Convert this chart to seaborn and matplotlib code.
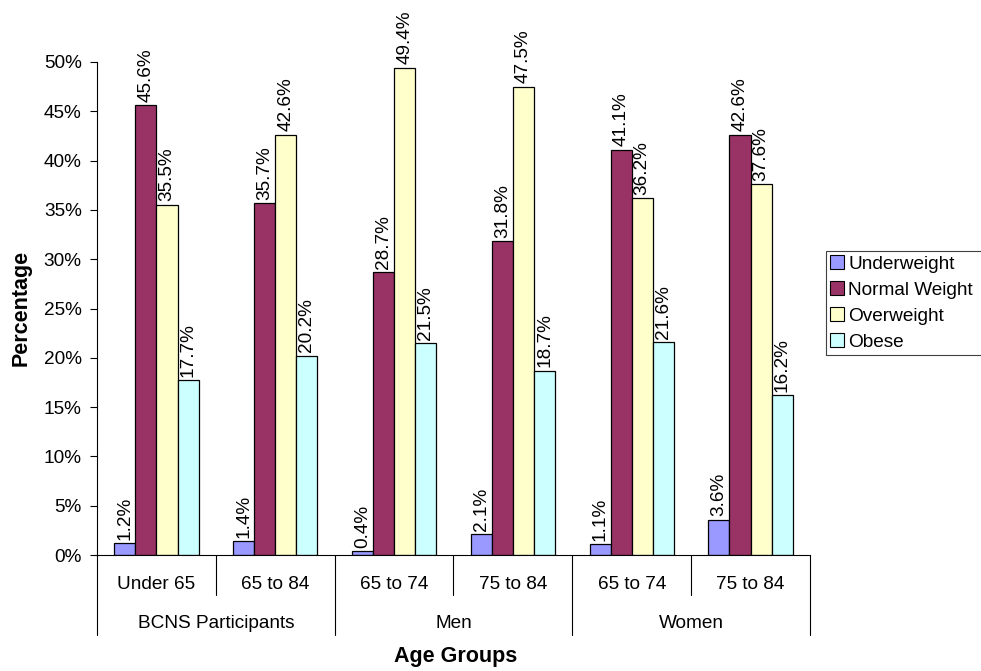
import matplotlib
matplotlib.use("Agg")
import matplotlib.pyplot as plt
import seaborn as sns
import pandas as pd
from matplotlib.patches import Rectangle
from matplotlib.ticker import MultipleLocator, FuncFormatter

# Age-group categories and the population each belongs to
age_groups = ["Under 65", "65 to 84", "65 to 74", "75 to 84", "65 to 74", "75 to 84"]
populations = ["BCNS Participants", "Men", "Women"]
group_sizes = [2, 2, 2]

weight_classes = ["Underweight", "Normal Weight", "Overweight", "Obese"]
underweight = [1.2, 1.4, 0.4, 2.1, 1.1, 3.6]
normal_weight = [45.6, 35.7, 28.7, 31.8, 41.1, 42.6]
overweight = [35.5, 42.6, 49.4, 47.5, 36.2, 37.6]
obese = [17.7, 20.2, 21.5, 18.7, 21.6, 16.2]

colors = ["#9999FF", "#993366", "#FFFFCC", "#CCFFFF"]

series = [underweight, normal_weight, overweight, obese]
rows = []
for cls, vals in zip(weight_classes, series):
    for i, v in enumerate(vals):
        rows.append({"slot": i, "cls": cls, "pct": v})
df = pd.DataFrame(rows)

sns.set_theme(style="white")
plt.rcParams["font.family"] = ["Liberation Sans", "DejaVu Sans"]
for key in ["text.color", "axes.labelcolor", "xtick.color", "ytick.color"]:
    plt.rcParams[key] = "black"

FS = 13.7

fig = plt.figure(figsize=(9.81, 6.71), dpi=100)
W, H = 981, 671
left, right, top, bottom = 97, 810, 62, 555
ax = fig.add_axes([left / W, 1 - bottom / H, (right - left) / W, (bottom - top) / H])

sns.barplot(data=df, x="slot", y="pct", hue="cls", hue_order=weight_classes,
            palette=colors, saturation=1, width=0.71, edgecolor="black", linewidth=0.9,
            errorbar=None, legend=True, ax=ax)

ax.set_xlim(-0.5, 5.5)
ax.set_ylim(0, 50)
ax.yaxis.set_major_locator(MultipleLocator(5))
ax.yaxis.set_major_formatter(FuncFormatter(lambda v, p: f"{v:.0f}%"))
ax.tick_params(axis="y", direction="out", length=5, width=0.8, color="black",
               labelsize=FS, pad=6, left=True)
ax.tick_params(axis="x", length=0, labelbottom=False)

for s in ["top", "right"]:
    ax.spines[s].set_visible(False)
for s in ["left", "bottom"]:
    ax.spines[s].set_color("black")
    ax.spines[s].set_linewidth(0.8)

# Value labels above each bar
for cont in ax.containers:
    ax.bar_label(cont, labels=[f"{b.get_height():.1f}%" for b in cont],
                 rotation=90, padding=2.5, fontsize=FS, clip_on=False)

# Two-level category axis
axh = bottom - top
def yfrac(px):
    return -(px - bottom) / axh

trans = ax.get_xaxis_transform()
for i, lab in enumerate(age_groups):
    ax.text(i, yfrac(589), lab, transform=trans, ha="center", va="baseline", fontsize=FS)

start = 0
boundaries = [-0.5]
for name, n in zip(populations, group_sizes):
    mid = start + (n - 1) / 2
    ax.text(mid, yfrac(628), name, transform=trans, ha="center", va="baseline", fontsize=FS)
    for k in range(1, n):
        x = start + k - 0.5
        ax.plot([x, x], [0, yfrac(595)], transform=trans, color="black", lw=0.8, clip_on=False)
    start += n
    boundaries.append(start - 0.5)
for x in boundaries:
    ax.plot([x, x], [0, yfrac(635)], transform=trans, color="black", lw=0.8, clip_on=False)

ax.set_xlabel("")
ax.set_ylabel("")
fig.text(456 / W, 1 - 662 / H, "Age Groups",
         ha="center", va="baseline", fontsize=15.5, fontweight="bold")
fig.text(21 / W, 1 - 308 / H, "Percentage", rotation=90,
         ha="center", va="center", fontsize=15.5, fontweight="bold")

# Legend on the right; its box runs off the figure edge
ax.legend_.remove()
handles = [plt.Rectangle((0, 0), 1, 1, facecolor=c, edgecolor="black", lw=0.8) for c in colors]
leg = fig.legend(handles, weight_classes, loc="upper left",
                 bbox_to_anchor=(826 / W, 1 - 251 / H), frameon=False,
                 fontsize=FS, handlelength=0.7, handleheight=0.7, handletextpad=0.25,
                 labelspacing=0.46, borderpad=0.22, borderaxespad=0)
fig.canvas.draw()
lb = leg.get_window_extent().transformed(fig.transFigure.inverted())
fig.add_artist(Rectangle((lb.x0, lb.y0), 1.05 - lb.x0, lb.height,
                         transform=fig.transFigure, facecolor="none",
                         edgecolor="#404040", lw=0.8, clip_on=False))

fig.savefig("out.png", dpi=100)
